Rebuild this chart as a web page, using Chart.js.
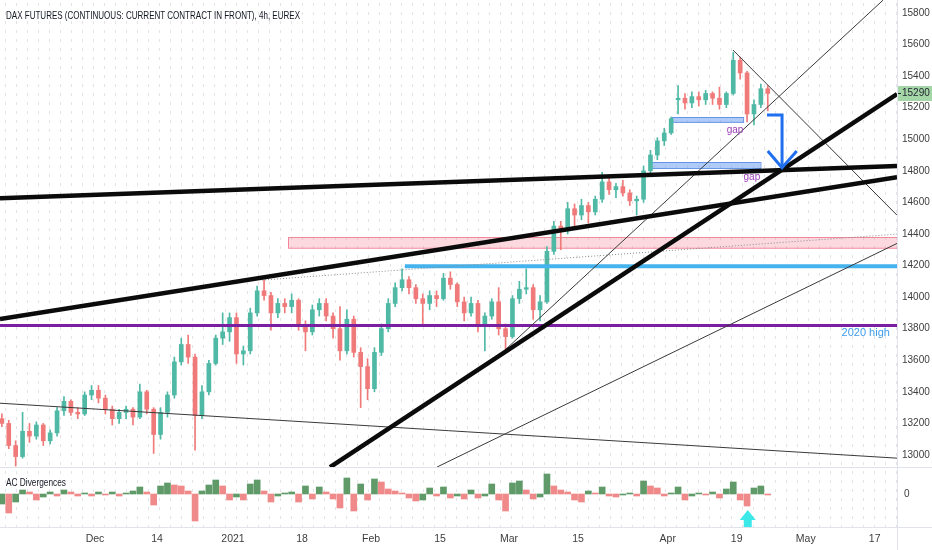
<!DOCTYPE html>
<html><head><meta charset="utf-8">
<script src="https://cdn.jsdelivr.net/npm/chart.js@4.4.1/dist/chart.umd.min.js"></script>
<style>
html,body{margin:0;padding:0;background:#fff;}
#wrap{position:relative;width:932px;height:550px;overflow:hidden;background:#fff;}
.bg{position:absolute;left:0;width:897px;background-image:url("data:image/svg+xml;utf8,<svg xmlns='http://www.w3.org/2000/svg' width='11' height='9'><rect x='5' y='3' width='1' height='3' fill='%23e4e4e4'/></svg>");}
canvas{position:absolute;left:0;}
.sep{position:absolute;background:#e0e3eb;}
.lbl{position:absolute;white-space:nowrap;transform-origin:0 50%;color:#131722;font-family:'Liberation Sans Narrow','Arial Narrow','Liberation Sans',Arial,sans-serif;font-size:10.5px;line-height:12px;}
</style></head>
<body>
<div id="wrap">
  <div class="bg" style="top:0;height:467px"></div>
  <div class="bg" style="top:468px;height:59px"></div>
  <canvas id="main" width="932" height="467" style="top:0"></canvas>
  <canvas id="osc" width="932" height="83" style="top:467px"></canvas>
  <div class="sep" style="left:897px;top:0;width:1px;height:550px"></div>
  <div class="sep" style="left:0;top:467px;width:932px;height:1px"></div>
  <div class="sep" style="left:0;top:527px;width:932px;height:1px"></div>
  <div class="lbl" id="title" data-w="294" style="left:6px;top:9px">DAX FUTURES (CONTINUOUS: CURRENT CONTRACT IN FRONT), 4h, EUREX</div>
  <div class="lbl" id="aclbl" data-w="60" style="left:6px;top:476px">AC Divergences</div>
</div>
<script>
// ---------- DATA ----------
const dates = ['2020-11-11','2020-11-12','2020-11-13','2020-11-16','2020-11-17','2020-11-18','2020-11-19','2020-11-20','2020-11-23','2020-11-24','2020-11-25','2020-11-26','2020-11-27','2020-11-30',
'2020-12-01','2020-12-02','2020-12-03','2020-12-04','2020-12-07','2020-12-08','2020-12-09','2020-12-10','2020-12-11','2020-12-14','2020-12-15','2020-12-16','2020-12-17','2020-12-18','2020-12-21','2020-12-22','2020-12-23','2020-12-28','2020-12-29','2020-12-30',
'2021-01-04','2021-01-05','2021-01-06','2021-01-07','2021-01-08','2021-01-11','2021-01-12','2021-01-13','2021-01-14','2021-01-15','2021-01-18','2021-01-19','2021-01-20','2021-01-21','2021-01-22','2021-01-25','2021-01-26','2021-01-27','2021-01-28','2021-01-29',
'2021-02-01','2021-02-02','2021-02-03','2021-02-04','2021-02-05','2021-02-08','2021-02-09','2021-02-10','2021-02-11','2021-02-12','2021-02-15','2021-02-16','2021-02-17','2021-02-18','2021-02-19','2021-02-22','2021-02-23','2021-02-24','2021-02-25','2021-02-26',
'2021-03-01','2021-03-02','2021-03-03','2021-03-04','2021-03-05','2021-03-08','2021-03-09','2021-03-10','2021-03-11','2021-03-12','2021-03-15','2021-03-16','2021-03-17','2021-03-18','2021-03-19','2021-03-22','2021-03-23','2021-03-24','2021-03-25','2021-03-26','2021-03-29','2021-03-30','2021-03-31',
'2021-04-01','2021-04-06','2021-04-07','2021-04-08','2021-04-09','2021-04-12','2021-04-13','2021-04-14','2021-04-15','2021-04-16','2021-04-19','2021-04-20','2021-04-21','2021-04-22','2021-04-23'];
const firstDay = -14; // trading-day index of dates[0]; 0 = 1 Dec 2020

const opens = [13230,13200,13060,12990,13150,13120,13190,13090,13140,13280,13340,13270,13260,13380,
13410,13360,13290,13230,13270,13290,13240,13400,13290,13130,13270,13380,13590,13700,13620,13250,13400,13580,13740,13780,
13870,13640,13660,13900,14040,14010,13900,13960,13940,13980,13820,13780,13920,13960,13880,13800,13660,13860,13650,13560,
13420,13650,13800,13960,14060,14110,14060,13990,13960,14010,13990,14120,14080,13970,13900,13960,13830,13880,13970,13800,
13750,13990,14050,14060,13920,13970,14290,14450,14420,14560,14520,14580,14540,14620,14730,14680,14700,14660,14610,14620,14800,14900,14990,
15040,15250,15260,15230,15270,15250,15290,15260,15220,15290,15500,15420,15160,15220,15320];
const highs = [13260,13220,13090,13270,13200,13210,13200,13160,13300,13370,13350,13300,13400,13440,
13440,13380,13310,13290,13310,13300,13450,13410,13300,13300,13400,13620,13740,13760,13640,13440,13600,13760,13900,13900,
13900,13690,13930,14070,14110,14030,13990,13990,14020,13990,13850,13950,13990,13990,13900,13940,13920,13880,13680,13610,
13680,13830,13990,14090,14180,14130,14080,14020,14040,14040,14150,14160,14090,14000,14000,13980,13900,13990,14060,13830,
14010,14100,14180,14080,14010,14320,14480,14480,14600,14590,14620,14600,14640,14790,14760,14720,14740,14680,14640,14830,14930,15010,15070,
15140,15340,15290,15300,15300,15310,15300,15330,15300,15550,15520,15430,15250,15350,15340];
const lows = [13180,13040,12930,12980,13080,13100,13060,13070,13120,13250,13250,13230,13250,13350,
13330,13260,13190,13200,13230,13190,13230,13260,13010,13100,13240,13360,13570,13580,13030,13230,13380,13570,13700,13720,
13580,13570,13640,13880,13980,13790,13870,13900,13900,13790,13660,13760,13880,13850,13740,13600,13640,13620,13300,13350,
13400,13630,13780,13940,14040,14020,13960,13830,13920,13940,13980,14050,13940,13850,13880,13780,13660,13860,13760,13670,
13740,13960,14020,13860,13850,13960,14270,14300,14400,14440,14490,14470,14520,14600,14650,14630,14640,14580,14520,14600,14780,14870,14960,
15030,15160,15190,15200,15210,15220,15220,15190,15200,15280,15380,15110,15090,15200,15180];
const closes = [13200,13060,12990,13150,13120,13190,13090,13140,13280,13340,13270,13260,13380,13410,
13360,13290,13230,13270,13290,13240,13400,13290,13130,13270,13380,13590,13700,13620,13250,13400,13580,13740,13780,13870,
13640,13660,13900,14040,14010,13900,13960,13940,13980,13820,13780,13920,13960,13880,13800,13660,13860,13650,13560,13420,
13650,13800,13960,14060,14110,14060,13990,13960,14010,13990,14120,14080,13970,13900,13960,13830,13880,13970,13800,13750,
13990,14050,14060,13920,13970,14290,14450,14420,14560,14520,14580,14540,14620,14730,14680,14700,14660,14610,14620,14800,14900,14990,15040,
15130,15260,15230,15270,15250,15290,15260,15220,15290,15500,15420,15160,15220,15320,15290];
const acValues = [-10,-19,-8,4,2,-6,-3,2,-2,4,2,-2,1,-2,
2,-1,2,-2,1,3,7,2,-11,8,11,9,8,3,-27,3,9,14,8,-6,
-3,-6,10,14,3,-8,-2,1,2,-8,8,-5,7,2,-5,-14,16,-17,10,-6,
15,12,5,3,1,-4,-7,-6,6,-2,7,-4,-2,-5,4,-4,-2,10,-6,-17,
11,13,4,-5,-3,20,8,4,2,-6,-8,3,1,7,-2,-3,-1,1,-2,13,8,6,-2,
1,7,-6,-2,1,-1,2,-4,5,12,-6,-12,6,8,-1];

const xTickDays = [0,9,20,30,40,50,60,70,83,93,103,113];
const xTickLabels = ['Dec','14','2021','18','Feb','15','Mar','15','Apr','19','May','17'];
const priceTicks = [13000,13200,13400,13600,13800,14000,14200,14400,14600,14800,15000,15200,15400,15600,15800];
const oscTicks = [0];
const lastPrice = 15290;
const xRange = [-13.77, 116.23];
const priceRange = [12924, 15882];
const oscRange = [-33, 27];

// drawings, in (trading-day, price) units
const thickLines = [
  [[-13.77,14627],[116.23,14830]],
  [[-13.77,13861],[116.23,14760]],
  [[34.06,12923],[116.23,15286]]
];
const thinLines = [
  [[59.1,13652],[114.2,15881]],
  [[92.46,15565],[116.23,14519]],
  [[-13.77,13328],[116.23,12980]],
  [[49.57,12924],[116.23,14340]]
];
const dottedLine = [[24.2,14108],[116.23,14399]];
const level2020High = [[-13.77,13820],[116.23,13820]];
const level14200 = [[44.9,14195],[116.23,14195]];
const pinkZone = {from:27.97, to:116.23, lo:14310, hi:14378};
const gapZones = [{from:83.6,to:93.9,lo:15109,hi:15140},{from:80.4,to:96.4,lo:14817,hi:14855}];
const gapLabels = [{x:92.75,y:15058,text:'gap'},{x:95.2,y:14760,text:'gap'}];
const highLabel = {x:115.2,y:13772,text:'2020 high'};
const blueArrow = [[97.39,15153],[99.57,15153],[99.57,14820]];
const blueArrowHead = [[97.5,14925],[99.57,14820],[101.7,14925]];
const cyanArrow = {x:94.6, tip:-16, neck:-26, end:-33};

// ---------- STYLE ----------
const FONT = "'Liberation Sans Narrow','Arial Narrow','Liberation Sans',Arial,sans-serif";
const UP = '#4fb9a6', DOWN = '#f07a7a';
const AC_UP = '#5f9a68', AC_DOWN = '#f08a8a';

const xs = dates.map((d,k)=> firstDay + k + 0.5);
const isUp = k => closes[k] >= opens[k];

function lineDs(pts, color, width, dash){
  return {type:'line', data: pts.map(p=>({x:p[0],y:p[1]})), borderColor:color, borderWidth:width,
    borderDash: dash||[], pointRadius:0, fill:false, tension:0, clip:0, order:1};
}

function fitY(width){ return s => { s.width = width; s.paddingTop = 0; s.paddingBottom = 0; }; }

const mainOverlay = {
  id:'mainOverlay',
  beforeDatasetsDraw(chart){
    const {ctx, chartArea:a, scales:{x,y}} = chart;
    ctx.save();
    ctx.beginPath(); ctx.rect(a.left,a.top,a.right-a.left,a.bottom-a.top); ctx.clip();
    const box = (z, fill, stroke) => {
      const x0=x.getPixelForValue(z.from), x1=x.getPixelForValue(z.to);
      const y0=y.getPixelForValue(z.hi), y1=y.getPixelForValue(z.lo);
      ctx.fillStyle=fill; ctx.fillRect(x0,y0,x1-x0,y1-y0);
      ctx.strokeStyle=stroke; ctx.lineWidth=1; ctx.strokeRect(Math.round(x0)+0.5,Math.round(y0)+0.5,x1-x0,y1-y0);
    };
    box(pinkZone,'rgba(245,130,150,0.30)','rgba(240,120,140,0.85)');
    gapZones.forEach(z=>box(z,'rgba(110,160,240,0.55)','rgba(90,140,230,0.9)'));
    ctx.restore();
  },
  afterDatasetsDraw(chart){
    const {ctx, chartArea:a, scales:{x,y}} = chart;
    ctx.save();
    // blue arrow
    ctx.strokeStyle='#1f6ff0'; ctx.lineWidth=3; ctx.lineJoin='miter'; ctx.lineCap='butt';
    ctx.beginPath();
    blueArrow.forEach((p,i)=>{ const px=x.getPixelForValue(p[0]), py=y.getPixelForValue(p[1]); i?ctx.lineTo(px,py):ctx.moveTo(px,py); });
    ctx.stroke();
    ctx.beginPath();
    blueArrowHead.forEach((p,i)=>{ const px=x.getPixelForValue(p[0]), py=y.getPixelForValue(p[1]); i?ctx.lineTo(px,py):ctx.moveTo(px,py); });
    ctx.stroke();
    // labels
    ctx.font = "10px 'Liberation Sans',Arial,sans-serif";
    ctx.textBaseline='middle'; ctx.textAlign='center'; ctx.fillStyle='#9c3fb8';
    gapLabels.forEach(l=>ctx.fillText(l.text, x.getPixelForValue(l.x), y.getPixelForValue(l.y)));
    ctx.font = "11px 'Liberation Sans',Arial,sans-serif";
    ctx.textAlign='right'; ctx.fillStyle='#3d9be9';
    ctx.fillText(highLabel.text, x.getPixelForValue(highLabel.x), y.getPixelForValue(highLabel.y));
    // last price tag
    const py = Math.round(y.getPixelForValue(lastPrice));
    ctx.fillStyle='#a5d6a7';
    ctx.fillRect(a.right+1, py-7, 34, 15);
    ctx.fillStyle='#1e222d';
    ctx.fillRect(a.right+1, py, 3, 1);
    ctx.font = "10px " + FONT; ctx.textAlign='left';
    ctx.fillText(String(lastPrice), a.right+5, py+0.5);
    ctx.restore();
  }
};

new Chart(document.getElementById('main'), {
  type:'bar',
  data:{datasets:[
    ...thickLines.map(l=>lineDs(l,'#0b0b0b',4.5)),
    ...thinLines.map(l=>lineDs(l,'#3a3a3a',1)),
    lineDs(dottedLine,'#8a8a8a',1,[1,2]),
    lineDs(level2020High,'#7b1fa2',3),
    lineDs(level14200,'#45b3ee',4),
    {type:'bar', data: xs.map((v,k)=>({x:v,y:[lows[k],highs[k]]})), barThickness:1, grouped:false,
      backgroundColor: c=> isUp(c.dataIndex)?UP:DOWN, borderWidth:0, order:10},
    {type:'bar', data: xs.map((v,k)=>({x:v,y:[opens[k],closes[k]]})), barThickness:4, grouped:false, minBarLength:1,
      backgroundColor: c=> isUp(c.dataIndex)?UP:DOWN, borderWidth:0, order:9}
  ]},
  options:{
    responsive:false, animation:false, devicePixelRatio:1, events:[],
    layout:{padding:0},
    plugins:{legend:{display:false}, tooltip:{enabled:false}},
    scales:{
      x:{type:'linear', min:xRange[0], max:xRange[1], display:false, offset:false},
      y:{type:'linear', position:'right', min:priceRange[0], max:priceRange[1],
        grid:{display:false, drawTicks:false}, border:{display:false},
        afterBuildTicks: s=>{ s.ticks = priceTicks.map(v=>({value:v})); },
        afterFit: fitY(35),
        ticks:{padding:5, color:'#3d3d3d', font:{family:FONT,size:10}, callback:v=>String(v)}}
    }
  },
  plugins:[mainOverlay]
});

const oscOverlay = {
  id:'oscOverlay',
  afterDatasetsDraw(chart){
    const {ctx, scales:{x,y}} = chart;
    const cx = x.getPixelForValue(cyanArrow.x);
    const yt = y.getPixelForValue(cyanArrow.tip), yn = y.getPixelForValue(cyanArrow.neck), ye = y.getPixelForValue(cyanArrow.end);
    ctx.save(); ctx.fillStyle='#3de8e8';
    ctx.beginPath();
    ctx.moveTo(cx,yt); ctx.lineTo(cx+8,yn); ctx.lineTo(cx+4,yn); ctx.lineTo(cx+4,ye);
    ctx.lineTo(cx-4,ye); ctx.lineTo(cx-4,yn); ctx.lineTo(cx-8,yn); ctx.closePath(); ctx.fill();
    ctx.restore();
  }
};

new Chart(document.getElementById('osc'), {
  type:'bar',
  data:{datasets:[{data: xs.map((v,k)=>({x:v,y:acValues[k]})), barThickness:6, grouped:false,
    backgroundColor: c=> (c.dataIndex===0 || acValues[c.dataIndex] >= acValues[c.dataIndex-1]) ? AC_UP : AC_DOWN,
    borderWidth:0}]},
  options:{
    responsive:false, animation:false, devicePixelRatio:1, events:[],
    layout:{padding:0},
    plugins:{legend:{display:false}, tooltip:{enabled:false}},
    scales:{
      x:{type:'linear', min:xRange[0], max:xRange[1], offset:false, grid:{display:false, drawTicks:false}, border:{display:false},
        afterBuildTicks: s=>{ s.ticks = xTickDays.map(v=>({value:v})); },
        afterFit: s=>{ s.height = 23; s.paddingLeft = 0; s.paddingRight = 0; },
        ticks:{autoSkip:false, maxRotation:0, padding:6, color:'#3d3d3d', font:{family:FONT,size:10.5},
          callback:(v,i)=>xTickLabels[i]}},
      y:{type:'linear', position:'right', min:oscRange[0], max:oscRange[1], grid:{display:false, drawTicks:false}, border:{display:false},
        afterBuildTicks: s=>{ s.ticks = oscTicks.map(v=>({value:v})); },
        afterFit: fitY(35),
        ticks:{padding:7, color:'#3d3d3d', font:{family:FONT,size:10}}}
    }
  },
  plugins:[oscOverlay]
});

// fit DOM labels to their measured widths in the reference
document.querySelectorAll('.lbl').forEach(el=>{
  const w = el.getBoundingClientRect().width, target = +el.dataset.w;
  if (w > 0) el.style.transform = 'scaleX(' + (target / w) + ')';
});
</script>
</body></html>
